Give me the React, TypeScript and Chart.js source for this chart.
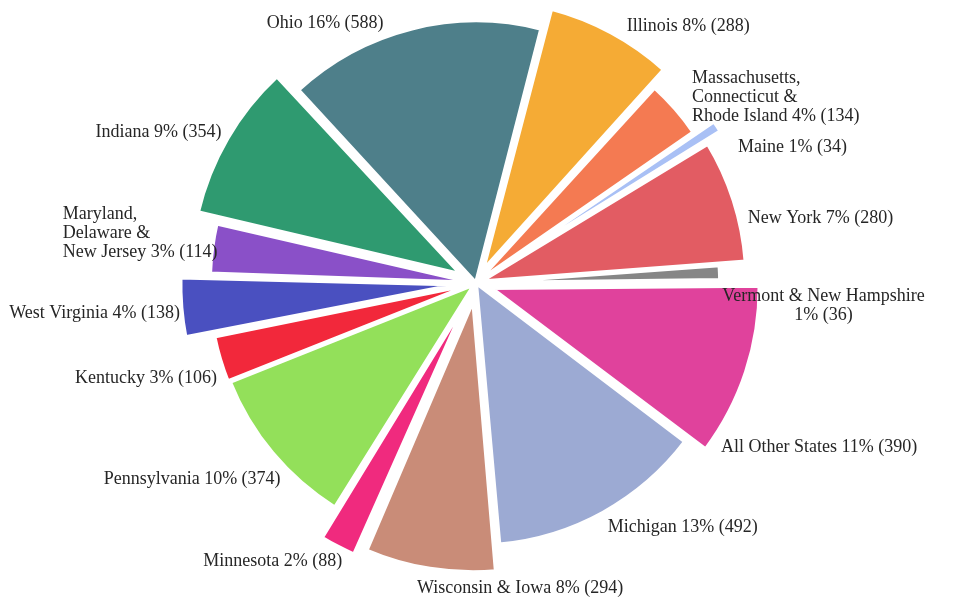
import React, { useEffect, useRef } from 'react';
import { Chart, registerables } from 'chart.js';

Chart.register(...registerables);

// ---- data (clockwise, starting just right of the top) ----
const categories = [
  'Illinois',
  'Massachusetts,\nConnecticut &\nRhode Island',
  'Maine',
  'New York',
  'Vermont & New Hampshire\n',
  'All Other States',
  'Michigan',
  'Wisconsin & Iowa',
  'Minnesota',
  'Pennsylvania',
  'Kentucky',
  'West Virginia',
  'Maryland,\nDelaware &\nNew Jersey',
  'Indiana',
  'Ohio',
];
const values = [288, 134, 34, 280, 36, 390, 492, 294, 88, 374, 106, 138, 114, 354, 588];
const percents = [8, 4, 1, 7, 1, 11, 13, 8, 2, 10, 3, 4, 3, 9, 16];

// ---- styles ----
const colors = [
  '#f5ab35', '#f47a52', '#a9c0f5', '#e25c63', '#868686', '#e0429c', '#9caad3',
  '#c98c78', '#f02a7e', '#93e05a', '#f2283b', '#4a50c0', '#8a50c8', '#2f9a70', '#4e7f8a',
];
const offsets = [58, 5, 52, 21, 0, 63, 0, 71, 76, 8, 10, 75, 8, 70, 0];
const radiusScale = [1, 1, 1, 1, 0.93, 1, 1, 1, 1, 1, 1, 1, 1, 1, 1];
const labelAlign: CanvasTextAlign[] = [
  'left', 'left', 'left', 'left', 'center', 'left', 'left', 'left',
  'right', 'right', 'right', 'right', 'left', 'right', 'center',
];
const labelNudge = [
  [10, 4], [8, -4], [11, 27], [3, 21], [92, 34], [-36, 72], [-1, 5], [-11, 8],
  [10, 5], [17, 19], [8, 16], [10, 5], [-138, -14], [4, 0], [-84, 6],
];

const labelText = (i: number) => {
  const name = categories[i];
  const tail = `${percents[i]}% (${values[i]})`;
  return name.endsWith('\n') ? name + tail : `${name} ${tail}`;
};

const BORDER = 4;

const radiusScalePlugin = {
  id: 'radiusScale',
  afterDatasetUpdate(chart: any, args: any) {
    args.meta.data.forEach((arc: any, i: number) => {
      arc.outerRadius = arc.outerRadius * (radiusScale[i] ?? 1);
    });
  },
};

const labelPlugin = {
  id: 'outsideLabels',
  afterDatasetsDraw(chart: any) {
    const ctx: CanvasRenderingContext2D = chart.ctx;
    const meta = chart.getDatasetMeta(0);
    ctx.save();
    ctx.font = '18px "Liberation Serif", "Times New Roman", serif';
    ctx.fillStyle = '#262626';
    ctx.textBaseline = 'middle';
    const lh = 19;
    meta.data.forEach((arc: any, i: number) => {
      const { x, y, startAngle, endAngle, outerRadius } = arc.getProps(
        ['x', 'y', 'startAngle', 'endAngle', 'outerRadius'], true);
      const circ = endAngle - startAngle;
      const t = (arc.options.offset || 0) / 4;
      const rOut = outerRadius + t * (2 - Math.sin(Math.min(Math.PI, circ))) - 2.5;
      const mid = (startAngle + endAngle) / 2;
      const r = rOut + 14;
      const ax = x + Math.cos(mid) * r + labelNudge[i][0];
      const ay = y + Math.sin(mid) * r + labelNudge[i][1];
      const lines = labelText(i).split('\n');
      ctx.textAlign = labelAlign[i];
      lines.forEach((line, k) => {
        ctx.fillText(line, ax, ay - ((lines.length - 1) * lh) / 2 + k * lh);
      });
    });
    ctx.restore();
  },
};

export default function App() {
  const canvasRef = useRef<HTMLCanvasElement | null>(null);

  useEffect(() => {
    const canvas = canvasRef.current;
    if (!canvas) return;
    const chart = new Chart(canvas, {
      type: 'pie',
      data: {
        labels: categories.map((c) => c.replace(/\n/g, ' ').trim()),
        datasets: [
          {
            data: values,
            backgroundColor: colors,
            borderColor: '#ffffff',
            borderWidth: BORDER,
            offset: offsets,
            radius: 262.5,
          } as any,
        ],
      },
      options: {
        responsive: false,
        animation: false,
        rotation: 14.4,
        layout: { padding: { left: 0, right: 3, top: 0, bottom: 36 } },
        plugins: {
          legend: { display: false },
          tooltip: { enabled: false },
        },
      } as any,
      plugins: [radiusScalePlugin, labelPlugin],
    });
    return () => chart.destroy();
  }, []);

  return (
    <div style={{ position: 'absolute', left: 0, top: 0, width: 955, height: 602, background: '#fff' }}>
      <canvas ref={canvasRef} width={955} height={602} />
    </div>
  );
}
